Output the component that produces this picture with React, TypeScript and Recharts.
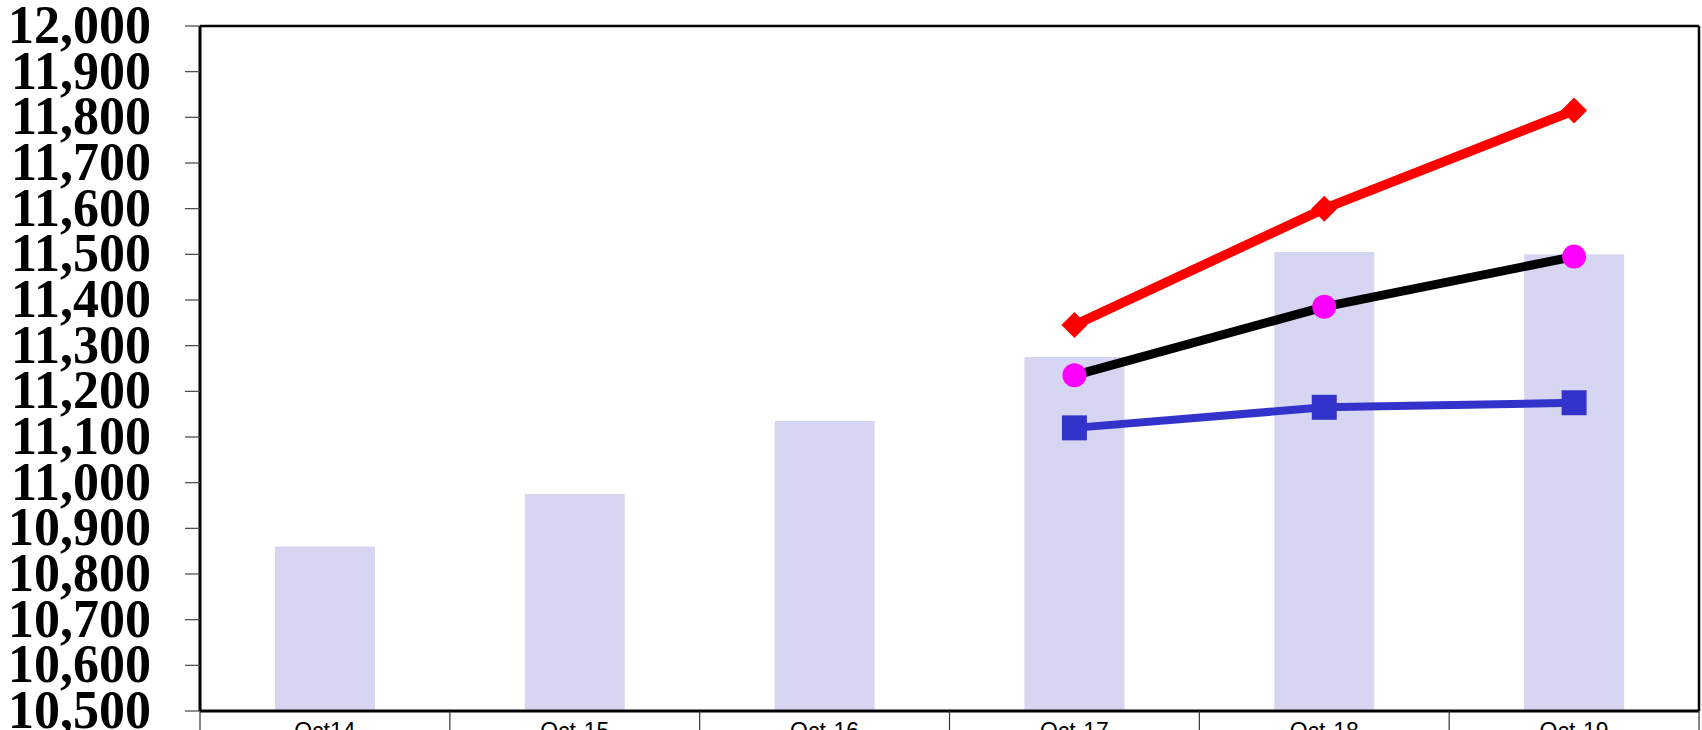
import React from 'react';
import { ComposedChart, Bar, Line, XAxis, YAxis } from 'recharts';

// Categories along the bottom axis
const categories = ['Oct14', 'Oct-15', 'Oct-16', 'Oct-17', 'Oct-18', 'Oct-19'];

// Column series (actuals)
const barValues = [10860, 10975, 11135, 11275, 11505, 11500];

// Projection lines, only defined from Oct-17 onward
const upperValues = [null, null, null, 11345, 11600, 11815];
const centralValues = [null, null, null, 11235, 11385, 11495];
const lowerValues = [null, null, null, 11120, 11165, 11175];

// Value axis ticks
const yTicks = [
  10500, 10600, 10700, 10800, 10900, 11000, 11100, 11200,
  11300, 11400, 11500, 11600, 11700, 11800, 11900, 12000,
];

const data = categories.map((name, i) => ({
  name,
  bar: barValues[i],
  upper: upperValues[i],
  central: centralValues[i],
  lower: lowerValues[i],
}));

const WIDTH = 1702;
const HEIGHT = 730;

const fmt = (v: number) => v.toLocaleString('en-US');

const YTick = (props: any) => {
  const { x, y, payload } = props;
  return (
    <text
      transform={`translate(${x} ${y}) scale(1 1.07)`}
      x={0}
      y={0}
      dy={16}
      textAnchor="end"
      fontFamily="'Liberation Serif', 'Times New Roman', serif"
      fontWeight={700}
      fontSize={52}
      fill="#000"
    >
      {fmt(payload.value)}
    </text>
  );
};

const X_TICK_MARGIN = 12;

const XTick = (props: any) => {
  const { x, y, payload, index } = props;
  const half = payload && payload.offset ? payload.offset : (WIDTH - 203) / categories.length / 2;
  const axisY = y - X_TICK_MARGIN;
  const isLast = index === categories.length - 1;
  return (
    <g>
      <line x1={x - half} x2={x - half} y1={axisY} y2={axisY + 30} stroke="#333" strokeWidth={1.2} />
      {isLast && (
        <line x1={x + half} x2={x + half} y1={axisY} y2={axisY + 30} stroke="#333" strokeWidth={1.2} />
      )}
      <text
        x={x}
        y={y}
        dy="0.71em"
        textAnchor="middle"
        fontFamily="'Liberation Sans', Arial, sans-serif"
        fontSize={23}
        fill="#000"
      >
        {payload.value}
      </text>
    </g>
  );
};

const isMissing = (p: any, key: string) =>
  p.cx == null || p.cy == null || p.payload == null || p.payload[key] == null;

const DiamondDot = (p: any) => {
  if (isMissing(p, 'upper')) return <g key={`u-${p.index}`} />;
  const { cx, cy } = p;
  const r = 13;
  return (
    <polygon
      key={`u-${p.index}`}
      points={`${cx},${cy - r} ${cx + r},${cy} ${cx},${cy + r} ${cx - r},${cy}`}
      fill="#FF0000"
    />
  );
};

const CircleDot = (p: any) => {
  if (isMissing(p, 'central')) return <g key={`c-${p.index}`} />;
  return <circle key={`c-${p.index}`} cx={p.cx} cy={p.cy} r={12} fill="#FF00FF" />;
};

const SquareDot = (p: any) => {
  if (isMissing(p, 'lower')) return <g key={`l-${p.index}`} />;
  const s = 25;
  return (
    <rect key={`l-${p.index}`} x={p.cx - s / 2} y={p.cy - s / 2} width={s} height={s} fill="#3333CC" />
  );
};

export default function App() {
  return (
    <div style={{ position: 'absolute', left: 0, top: 0, width: WIDTH, height: HEIGHT, background: '#fff' }}>
      <ComposedChart
        width={WIDTH}
        height={HEIGHT}
        data={data}
        margin={{ top: 25, right: 2, left: 0, bottom: 0 }}
        barCategoryGap="30%"
      >
        <XAxis
          dataKey="name"
          height={19}
          axisLine={{ stroke: '#000', strokeWidth: 3 }}
          tickLine={false}
          tickSize={0}
          tickMargin={X_TICK_MARGIN}
          tick={<XTick />}
          interval={0}
        />
        <XAxis
          xAxisId="top"
          dataKey="name"
          orientation="top"
          height={1}
          axisLine={{ stroke: '#000', strokeWidth: 2.5 }}
          tickLine={false}
          tick={false}
        />
        <YAxis
          type="number"
          domain={[10500, 12000]}
          ticks={yTicks}
          interval={0}
          width={200}
          axisLine={{ stroke: '#000', strokeWidth: 3 }}
          tickLine={{ stroke: '#444', strokeWidth: 1.2 }}
          tickSize={15}
          tickMargin={34}
          tick={<YTick />}
          allowDataOverflow
        />
        <YAxis
          yAxisId="right"
          orientation="right"
          width={1}
          domain={[10500, 12000]}
          axisLine={{ stroke: '#000', strokeWidth: 2.5 }}
          tickLine={false}
          tick={false}
        />
        <Bar dataKey="bar" fill="#D6D6F3" isAnimationActive={false} />
        <Line
          dataKey="upper"
          stroke="#FF0000"
          strokeWidth={9.5}
          dot={DiamondDot}
          activeDot={false}
          isAnimationActive={false}
        />
        <Line
          dataKey="central"
          stroke="#000000"
          strokeWidth={9}
          dot={CircleDot}
          activeDot={false}
          isAnimationActive={false}
        />
        <Line
          dataKey="lower"
          stroke="#3333CC"
          strokeWidth={8}
          dot={SquareDot}
          activeDot={false}
          isAnimationActive={false}
        />
      </ComposedChart>
    </div>
  );
}
